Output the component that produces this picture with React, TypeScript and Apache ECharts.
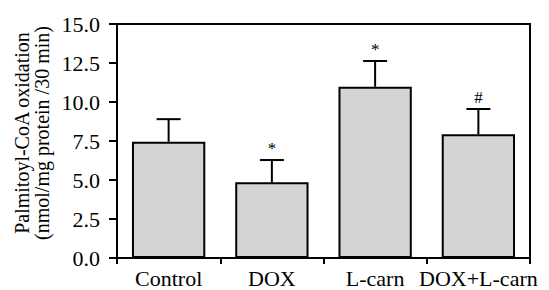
import React, { useEffect, useRef } from "react";
import * as echarts from "echarts";

const categories = ["Control", "DOX", "L-carn", "DOX+L-carn"];
const means = [7.45, 4.85, 10.98, 7.93];
const errors = [1.45, 1.43, 1.65, 1.62];
const marks = ["", "*", "*", "#"];
const yTicks = [0, 2.5, 5, 7.5, 10, 12.5, 15];
const yTitle = ["Palmitoyl-CoA oxidation", "(nmol/mg protein /30 min)"];

const FONT = "'Liberation Serif', 'DejaVu Serif', serif";

export default function App() {
  const ref = useRef<HTMLDivElement>(null);
  useEffect(() => {
    if (!ref.current) return;
    const chart = echarts.init(ref.current, null, { renderer: "svg" });
    const errData = categories.map((c, i) => [i, means[i], means[i] + errors[i], marks[i]]);
    chart.setOption({
      animation: false,
      grid: { left: 117, top: 24, right: 19, bottom: 32, show: true, borderColor: "#000", borderWidth: 2 },
      xAxis: {
        type: "category",
        data: categories,
        axisLine: { lineStyle: { color: "#000", width: 2 } },
        axisTick: { show: true, length: 6, lineStyle: { color: "#000", width: 2 } },
        axisLabel: { color: "#000", fontFamily: FONT, fontSize: 22, margin: 9, interval: 0 },
        splitLine: { show: false },
      },
      yAxis: {
        type: "value",
        min: yTicks[0],
        max: yTicks[yTicks.length - 1],
        interval: 2.5,
        axisLine: { show: true, lineStyle: { color: "#000", width: 2 } },
        axisTick: { show: true, length: 8, lineStyle: { color: "#000", width: 2 } },
        axisLabel: {
          color: "#000",
          fontFamily: FONT,
          fontSize: 22,
          margin: 17,
          formatter: (v: number) => v.toFixed(1),
        },
        splitLine: { show: false },
      },
      graphic: [
        {
          type: "text",
          x: 32,
          y: 133,
          rotation: Math.PI / 2,
          style: {
            text: yTitle.join("\n"),
            fontFamily: FONT,
            fontSize: 20,
            lineHeight: 20,
            fill: "#000",
            align: "center",
            verticalAlign: "middle",
          },
        },
      ],
      series: [
        {
          type: "bar",
          data: means,
          barWidth: "71%",
          itemStyle: { color: "#d4d4d4", borderColor: "#000", borderWidth: 2 },
          z: 2,
        },
        {
          type: "custom",
          data: errData,
          z: 3,
          renderItem: (params: any, api: any) => {
            const x = api.value(0);
            const lo = api.coord([x, api.value(1)]);
            const hi = api.coord([x, api.value(2)]);
            const mark = errData[params.dataIndex][3] as string;
            const half = 12;
            const style = { stroke: "#000", lineWidth: 2 };
            const children: any[] = [
              { type: "line", shape: { x1: lo[0], y1: lo[1], x2: hi[0], y2: hi[1] }, style },
              { type: "line", shape: { x1: hi[0] - half, y1: hi[1], x2: hi[0] + half, y2: hi[1] }, style },
            ];
            if (mark) {
              children.push({
                type: "text",
                x: hi[0],
                y: hi[1] - 3,
                style: {
                  text: mark,
                  fontFamily: FONT,
                  fontSize: 17,
                  fill: "#000",
                  align: "center",
                  verticalAlign: "bottom",
                },
              });
            }
            return { type: "group", children };
          },
        },
      ],
    });
    return () => chart.dispose();
  }, []);
  return <div ref={ref} style={{ width: 549, height: 290, position: "absolute", left: 0, top: 0 }} />;
}
